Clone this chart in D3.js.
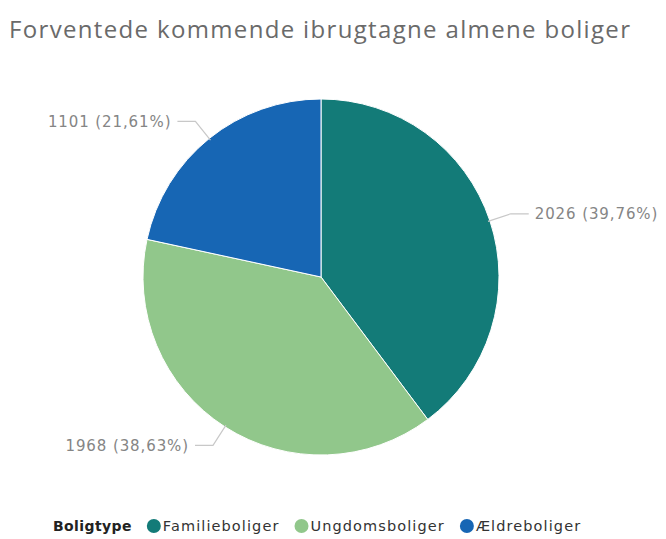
<!DOCTYPE html>
<html>
<head>
<meta charset="utf-8">
<script src="https://cdn.jsdelivr.net/npm/d3@7"></script>
<style>
  body { margin: 0; background: #fff; }
  svg { display: block; }
</style>
</head>
<body>
<svg id="chart" width="666" height="539"></svg>
<script>
(function() {
const svg = d3.select('svg#chart');

const categories = ['Familieboliger', 'Ungdomsboliger', 'Ældreboliger'];
const values = [2026, 1968, 1101];
const colors = ['#137b78', '#91c78b', '#1766b4'];
const legendTitle = 'Boligtype';
const title = 'Forventede kommende ibrugtagne almene boliger';

const cx = 321, cy = 277, radius = 178;
const total = d3.sum(values);
const fmt = v => (v / total * 100).toFixed(2).replace('.', ',');

const tt = svg.append('text')
    .attr('x', 9)
    .attr('y', 38)
    .attr('font-family', 'Open Sans, sans-serif')
    .attr('font-size', 24)
    .attr('fill', '#6a6a6a')
    .text(title);
// keep title width the same as the reference
if (Math.abs(tt.node().getComputedTextLength() - 621) > 8) tt.attr('textLength', 621);

const data = categories.map((c, i) => ({ name: c, value: values[i], color: colors[i] }));
const pie = d3.pie().sort(null).value(d => d.value);
const arc = d3.arc().innerRadius(0).outerRadius(radius);
const arcs = pie(data);

const g = svg.append('g').attr('transform', `translate(${cx},${cy})`);
g.selectAll('path.slice')
  .data(arcs)
  .join('path')
    .attr('class', 'slice')
    .attr('d', arc)
    .attr('fill', d => d.data.color)
    .attr('stroke', '#fff')
    .attr('stroke-width', 1);

const mid = d => (d.startAngle + d.endAngle) / 2;
const pt = (a, r) => [Math.sin(a) * r, -Math.cos(a) * r];

arcs.forEach(d => {
  const a = mid(d);
  const side = Math.sin(a) >= 0 ? 1 : -1;
  const p1 = pt(a, radius - 2);
  const p2 = pt(a, radius + 22);
  const p3 = [p2[0] + side * 18, p2[1]];
  g.append('polyline')
      .attr('points', [p1, p2, p3].map(p => p.join(',')).join(' '))
      .attr('fill', 'none')
      .attr('stroke', '#c8c8c8')
      .attr('stroke-width', 1.2);
  g.append('text')
      .attr('x', p3[0] + side * 6)
      .attr('y', p3[1])
      .attr('dy', '0.35em')
      .attr('text-anchor', side > 0 ? 'start' : 'end')
      .attr('font-family', 'DejaVu Sans, sans-serif')
      .attr('font-size', 15)
      .attr('letter-spacing', 0.9)
      .attr('fill', '#858585')
      .text(`${d.data.value} (${fmt(d.data.value)}%)`);
});

// legend
const legend = svg.append('g').attr('transform', 'translate(53,531)');
const lt = legend.append('text')
    .attr('x', 0)
    .attr('y', 0)
    .attr('font-family', 'DejaVu Sans, sans-serif')
    .attr('font-size', 14)
    .attr('font-weight', 'bold')
    .attr('letter-spacing', 0.4)
    .attr('fill', '#222')
    .text(legendTitle);
let x = lt.node().getComputedTextLength();
data.forEach(d => {
  const c = x + 22;
  legend.append('circle')
      .attr('cx', c)
      .attr('cy', -5)
      .attr('r', 7)
      .attr('fill', d.color);
  const t = legend.append('text')
      .attr('x', c + 9)
      .attr('y', 0)
      .attr('font-family', 'DejaVu Sans, sans-serif')
      .attr('font-size', 14.5)
      .attr('letter-spacing', 1.1)
      .attr('fill', '#333')
      .text(d.name);
  x = c + 9 + t.node().getComputedTextLength();
});
})();
</script>
</body>
</html>
